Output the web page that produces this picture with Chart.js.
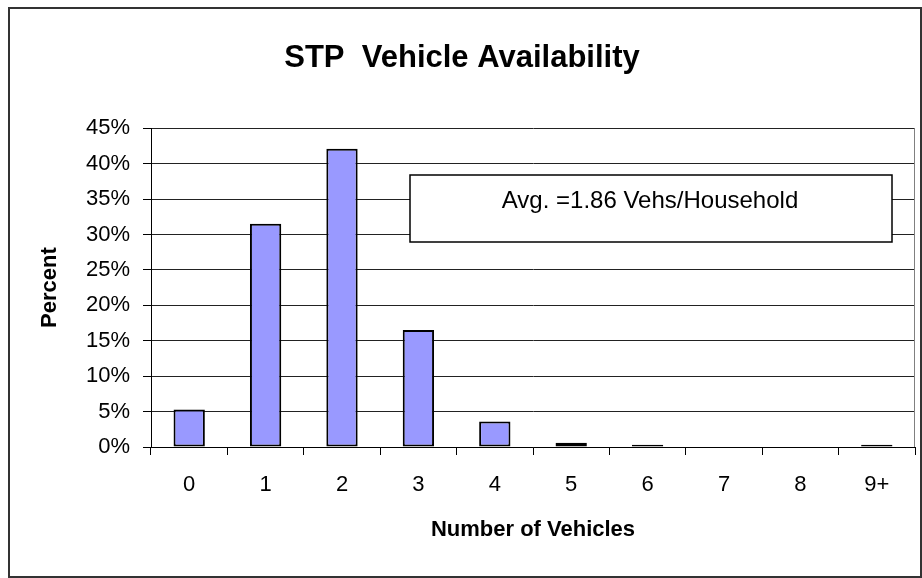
<!DOCTYPE html>
<html>
<head>
<meta charset="utf-8">
<script src="https://cdn.jsdelivr.net/npm/chart.js@4.4.0/dist/chart.umd.min.js"></script>
<style>
  html, body { margin: 0; padding: 0; background: #fff; }
</style>
</head>
<body>
<canvas id="vehChart" width="922" height="578"></canvas>
<script>
// vehicles per household and share of households (%)
var vehicleCounts = ["0", "1", "2", "3", "4", "5", "6", "7", "8", "9+"];
var percentHouseholds = [5.3, 31.5, 42.1, 16.5, 3.6, 0.6, 0.3, 0, 0, 0.3];
var percentTicks = [0, 5, 10, 15, 20, 25, 30, 35, 40, 45];
var avgNote = "Avg. =1.86 Vehs/Household";

var FONT = '"Liberation Sans", Arial, sans-serif';

// outer frame, plot border and the average note box
var framePlugin = {
  id: "frame",
  afterDraw: function (chart) {
    var c = chart.ctx;
    var a = chart.chartArea;
    c.save();
    // right edge of the plot area
    c.strokeStyle = "#808080";
    c.lineWidth = 1;
    c.beginPath();
    c.moveTo(Math.round(a.right) - 0.5, a.top);
    c.lineTo(Math.round(a.right) - 0.5, a.bottom);
    c.stroke();

    // note box
    c.fillStyle = "#fff";
    c.fillRect(410, 175, 482, 67);
    c.strokeStyle = "#000";
    c.lineWidth = 1.5;
    c.strokeRect(410, 175, 482, 67);
    c.fillStyle = "#000";
    c.font = "24px " + FONT;
    c.textAlign = "center";
    c.textBaseline = "middle";
    c.fillText(avgNote, 650, 201);

    // chart frame
    c.strokeStyle = "#333";
    c.lineWidth = 2;
    c.strokeRect(9, 8, 912, 569);
    c.restore();
  }
};

new Chart(document.getElementById("vehChart"), {
  type: "bar",
  data: {
    labels: vehicleCounts,
    datasets: [{
      label: "Percent",
      data: percentHouseholds,
      backgroundColor: "#9999FF",
      borderColor: "#000",
      borderWidth: 2,
      borderSkipped: false,
      categoryPercentage: 1,
      barPercentage: 0.41
    }]
  },
  options: {
    responsive: false,
    animation: false,
    devicePixelRatio: 1,
    layout: { padding: { left: 9, right: 7, top: 7, bottom: 31 } },
    plugins: {
      legend: { display: false },
      tooltip: { enabled: false },
      title: {
        display: true,
        text: "STP  Vehicle Availability",
        color: "#000",
        font: { family: FONT, size: 31, weight: "bold" },
        padding: { top: 33, bottom: 51 }
      }
    },
    scales: {
      x: {
        afterFit: function (s) { s.height = 100; },
        grid: {
          drawOnChartArea: false,
          drawTicks: true,
          tickLength: 8,
          color: "#000",
          offset: true
        },
        border: { color: "#000", width: 1 },
        ticks: {
          color: "#000",
          padding: 17,
          font: { family: FONT, size: 22 }
        },
        title: {
          display: true,
          text: "Number of Vehicles",
          color: "#000",
          font: { family: FONT, size: 22, weight: "bold" },
          padding: { top: 4, bottom: 4 }
        }
      },
      y: {
        min: percentTicks[0],
        max: percentTicks[percentTicks.length - 1],
        afterFit: function (s) { s.width = 142; },
        afterBuildTicks: function (s) {
          s.ticks = percentTicks.map(function (v) { return { value: v }; });
        },
        grid: {
          color: "#222",
          lineWidth: 1,
          tickLength: 8,
          tickColor: "#000"
        },
        border: { color: "#000", width: 1 },
        ticks: {
          color: "#000",
          padding: 13,
          font: { family: FONT, size: 22 },
          callback: function (v) { return v + "%"; }
        },
        title: {
          display: true,
          text: "Percent",
          color: "#000",
          font: { family: FONT, size: 22, weight: "bold" },
          padding: { top: 28, bottom: 28 }
        }
      }
    }
  },
  plugins: [framePlugin]
});
</script>
</body>
</html>
